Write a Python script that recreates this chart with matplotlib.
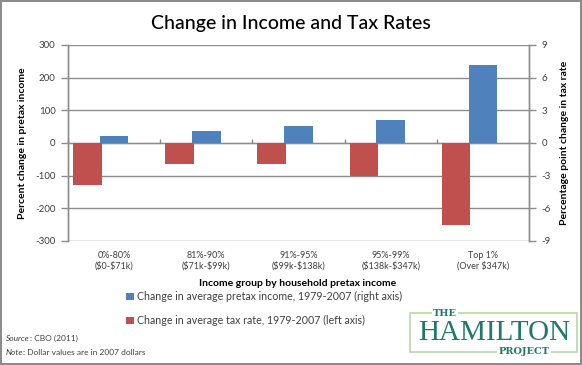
import matplotlib
matplotlib.use("Agg")
import matplotlib.pyplot as plt
import numpy as np
from matplotlib.patches import Rectangle
from matplotlib.text import Annotation

plt.rcParams['font.family'] = ['Lato', 'DejaVu Sans']
plt.rcParams['text.parse_math'] = False

categories = ["0%-80%\n($0-$71k)", "81%-90%\n($71k-$99k)", "91%-95%\n($99k-$138k)",
              "95%-99%\n($138k-$347k)", "Top 1%\n(Over $347k)"]
income_change = [20, 37, 53, 69, 240]          # percent, left axis
tax_rate_change = [-3.9, -1.9, -1.9, -3.0, -7.5]  # percentage points, right axis
left_ticks = [-300, -200, -100, 0, 100, 200, 300]
right_ticks = [-9, -6, -3, 0, 3, 6, 9]

W, H = 582, 365
fig = plt.figure(figsize=(W / 100, H / 100), dpi=100)
fig.patch.set_edgecolor('#8c8c8c')
fig.patch.set_linewidth(1.5)

def fx(px):
    return px / W

def fy(py):
    return 1 - py / H

ax = fig.add_axes([fx(68), fy(241), fx(529) - fx(68), fy(45) - fy(241)])
ax2 = ax.twinx()

blue = '#4f81bd'
red = '#c0504d'
grid_c = '#8c8c8c'
txt_c = '#404040'

x = np.arange(len(categories))
w = 0.31
hb = ax.bar(x + 0.0, income_change, width=w, color=blue, zorder=3)
hr = ax2.bar(x - 0.29, tax_rate_change, width=w, color=red, zorder=3)

ax.set_xlim(-0.5, len(categories) - 0.5)
ax.set_ylim(-300, 300)
ax2.set_ylim(-9, 9)
ax.set_yticks(left_ticks)
ax2.set_yticks(right_ticks)
ax.set_yticklabels([str(v) for v in left_ticks])
ax2.set_yticklabels([str(v) for v in right_ticks])

ax.yaxis.grid(True, color=grid_c, linewidth=1.0, zorder=0)
ax.set_axisbelow(True)

for a in (ax, ax2):
    for s in ('top', 'bottom'):
        a.spines[s].set_visible(False)
    a.spines['left'].set_color(grid_c)
    a.spines['right'].set_color(grid_c)
    a.spines['left'].set_linewidth(1.0)
    a.spines['right'].set_linewidth(1.0)
    a.tick_params(axis='y', colors=grid_c, length=5, width=1.0, labelsize=7,
                  labelcolor=txt_c, pad=4)

ax.set_xticks(x)
ax.set_xticklabels(categories, fontsize=6.5, color=txt_c, linespacing=1.15)
ax.tick_params(axis='x', length=0, pad=7)

# category axis line at zero with small boundary ticks
sec = ax.secondary_xaxis(0.5)
sec.set_xticks(np.arange(len(categories) + 1) - 0.5)
sec.set_xticklabels([])
sec.tick_params(axis='x', length=3, color=grid_c, width=1.0)
sec.spines['bottom'].set_color(grid_c)
sec.spines['bottom'].set_linewidth(1.0)

ax.set_ylabel("Percent change in pretax income", fontsize=7.5, fontweight='bold',
              color='black', labelpad=6)
ax2.set_ylabel("Percentage point change in tax rate", fontsize=7.5, fontweight='bold',
               color='black', labelpad=7, rotation=90)
fig.text(fx(298), fy(283), "Income group by household pretax income", fontsize=7.5,
         fontweight='bold', color='black', ha='center', va='center')

fig.text(fx(291), fy(23), "Change in Income and Tax Rates", fontsize=14,
         ha='center', va='center', color='black', fontweight='medium')

fig.legend([hb, hr],
           ["Change in average pretax income, 1979-2007 (right axis)",
            "Change in average tax rate, 1979-2007 (left axis)"],
           loc='upper left', bbox_to_anchor=(fx(122), fy(287)), frameon=False,
           fontsize=7.7, handlelength=0.7, handleheight=0.7, handletextpad=0.3,
           labelspacing=1.2, borderaxespad=0, labelcolor=txt_c)

t1 = fig.text(fx(6), fy(341), "Source", fontsize=6, color=txt_c, style='italic',
              va='baseline', ha='left')
t2 = fig.text(fx(6), fy(355), "Note", fontsize=6, color=txt_c, style='italic',
              va='baseline', ha='left')
fig.add_artist(Annotation(": CBO (2011)", xy=(1, 0), xycoords=t1,
                          va='bottom', ha='left', fontsize=6, color=txt_c))
fig.add_artist(Annotation(": Dollar values are in 2007 dollars", xy=(1, 0),
                          xycoords=t2, va='bottom', ha='left', fontsize=6,
                          color=txt_c))

# Hamilton Project logo
teal = '#1f7a6a'
box_c = '#b9d8a8'
fig.add_artist(Rectangle((fx(410), fy(352)), fx(577) - fx(410), fy(313) - fy(352),
                         transform=fig.transFigure, fill=False, edgecolor=box_c,
                         linewidth=1.2))
fig.text(fx(445), fy(313), "THE", fontsize=7, color=teal, family='DejaVu Serif',
         ha='center', va='center', fontweight='bold',
         bbox=dict(facecolor='white', edgecolor='none', pad=1))
fig.text(fx(494), fy(333), "HAMILTON", fontsize=21, color=teal,
         family='Liberation Serif', ha='center', va='center')
fig.text(fx(524), fy(352), "PROJECT", fontsize=7, color=teal, family='DejaVu Serif',
         ha='center', va='center', fontweight='bold',
         bbox=dict(facecolor='white', edgecolor='none', pad=1))

fig.savefig("out.png", dpi=100)
